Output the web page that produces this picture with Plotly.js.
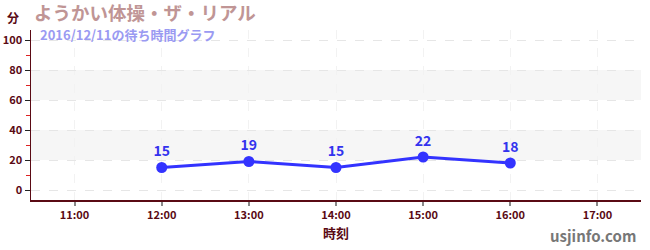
<!DOCTYPE html>
<html><head><meta charset="utf-8">
<script src="https://cdn.plot.ly/plotly-3.0.1.min.js"></script>
<style>html,body{margin:0;padding:0;background:#fff}#c{width:650px;height:250px}</style>
</head><body><div id="c"></div>
<script>
const times = ['2016-12-11 12:00','2016-12-11 13:00','2016-12-11 14:00','2016-12-11 15:00','2016-12-11 16:00'];
const waits = [15, 19, 15, 22, 18];
const bandRanges = [[20,40],[60,80]];
const titleText = 'ようかい体操・ザ・リアル';
const subtitleText = '2016/12/11の待ち時間グラフ';
const unitText = '分';
const xTitle = '時刻';
const credit = 'usjinfo.com';

const F = '"Noto Sans CJK JP", "Noto Sans", sans-serif';
const dark = '#5a0a14';

const data = [{
  x: times, y: waits, type: 'scatter', mode: 'lines+markers+text',
  text: waits.map(String), textposition: 'top center',
  textfont: {family: F, size: 14, color: '#3333ee', weight: 'bold'},
  line: {color: '#3333ff', width: 3},
  marker: {color: '#3333ff', size: 11},
  hoverinfo: 'none', cliponaxis: false
}];

const shapes = bandRanges.map(r => ({
  type: 'rect', xref: 'paper', yref: 'y', x0: 0, x1: 1, y0: r[0], y1: r[1],
  fillcolor: '#f6f6f6', line: {width: 0}, layer: 'below'
}));

const layout = {
  width: 650, height: 250,
  margin: {l: 31, r: 9, t: 30, b: 50},
  paper_bgcolor: '#fff', plot_bgcolor: '#fff',
  showlegend: false,
  shapes: shapes,
  xaxis: {
    type: 'date', range: ['2016-12-11 10:30', '2016-12-11 17:30'],
    dtick: 3600000, tick0: '2016-12-11 11:00', tickformat: '%H:%M',
    showgrid: true, gridcolor: '#f2f2f2', griddash: 'dash', gridwidth: 1,
    showline: true, linecolor: dark, linewidth: 1.5,
    ticks: 'outside', ticklen: 4, tickcolor: '#888', tickwidth: 2,
    tickfont: {family: F, size: 11, color: dark, weight: 'bold'},
    zeroline: false, fixedrange: true,
    title: {text: xTitle, font: {family: F, size: 13, color: dark, weight: 'bold'}, standoff: 8}
  },
  yaxis: {
    range: [-6.67, 106.67], dtick: 20, tick0: 0,
    showgrid: true, gridcolor: '#e6e6e6', griddash: 'dash', gridwidth: 1,
    showline: true, linecolor: dark, linewidth: 1.5,
    ticks: 'outside', ticklen: 5, tickcolor: '#222', tickwidth: 1,
    minor: {dtick: 20, tick0: 10, ticks: 'outside', ticklen: 4, tickcolor: '#dd2222', showgrid: false},
    tickfont: {family: F, size: 11, color: dark, weight: 'bold'},
    zeroline: false, fixedrange: true
  },
  annotations: [
    {text: unitText, xref: 'paper', yref: 'paper', x: -0.03, y: 1, xanchor: 'center', yanchor: 'middle',
     showarrow: false, font: {family: F, size: 12, color: dark, weight: 'bold'}, yshift: 13},
    {text: titleText, xref: 'paper', yref: 'paper', x: 0.004, y: 1, xanchor: 'left', yanchor: 'middle',
     showarrow: false, font: {family: F, size: 18.5, color: '#c09595', weight: 'bold'}, yshift: 18.5, borderpad: 0},
    {text: subtitleText, xref: 'paper', yref: 'paper', x: 0.013, y: 1, xanchor: 'left', yanchor: 'middle',
     showarrow: false, font: {family: F, size: 13, color: '#9a9af2', weight: 'bold'}, yshift: -4, borderpad: 0},
    {text: credit, xref: 'paper', yref: 'paper', x: 0.995, y: 0, xanchor: 'right', yanchor: 'top',
     showarrow: false, font: {family: F, size: 15, color: '#777', weight: 'bold'}, yshift: -23}
  ]
};
Plotly.newPlot('c', data, layout, {displayModeBar: false, staticPlot: true});
</script></body></html>
